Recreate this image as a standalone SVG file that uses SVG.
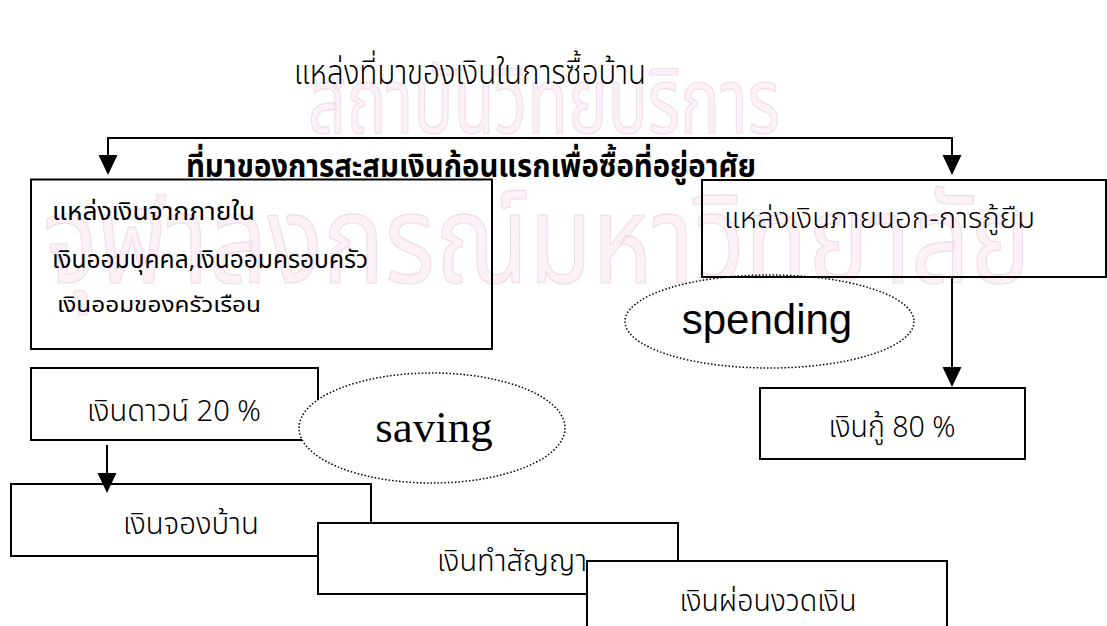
<svg xmlns="http://www.w3.org/2000/svg" width="1107" height="626" viewBox="0 0 1107 626">
<style>
.box{fill:none;stroke:#000;stroke-width:2}
.boxw{fill:#fff;stroke:#000;stroke-width:2}
.oval{fill:#fff;stroke:#000;stroke-width:1.5;stroke-dasharray:1.5 2}
.wire{fill:none;stroke:#000;stroke-width:2}
.th{font-family:"Noto Sans Thai","Noto Sans",sans-serif;fill:#000}
.lt{font-weight:300}
.wm{font-family:"Noto Sans Thai","Noto Sans",sans-serif;fill:#fbf1f7;stroke:#efdbe9;stroke-width:1.2}
</style>
<rect width="1107" height="626" fill="#fff"/>
<g id="watermark">
<text class="wm" x="544" y="133" font-size="92" text-anchor="middle" textLength="472" lengthAdjust="spacingAndGlyphs">สถาบันวิทยบริการ</text>
<text class="wm" x="537" y="283" font-size="124" text-anchor="middle" textLength="988" lengthAdjust="spacingAndGlyphs">จุฬาลงกรณ์มหาวิทยาลัย</text>
</g>
<g id="title">
<text class="th lt" x="470" y="84" font-size="34" text-anchor="middle" textLength="352" lengthAdjust="spacingAndGlyphs">แหล่งที่มาของเงินในการซื้อบ้าน</text>
</g>
<g id="subtitle">
<text class="th" x="471" y="177" font-size="32" font-weight="bold" text-anchor="middle" textLength="570" lengthAdjust="spacingAndGlyphs">ที่มาของการสะสมเงินก้อนแรกเพื่อซื้อที่อยู่อาศัย</text>
</g>
<g id="spending">
<ellipse class="oval" cx="769.5" cy="321.5" rx="144.5" ry="46.5"/>
<text x="767" y="334" font-family="Liberation Sans, Arial, sans-serif" font-size="42" text-anchor="middle">spending</text>
</g>
<g id="internal">
<rect class="box" x="31" y="179.5" width="461" height="169.5"/>
<text class="th" x="52" y="220" font-size="24" textLength="203" lengthAdjust="spacingAndGlyphs">แหล่งเงินจากภายใน</text>
<text class="th" x="52" y="268" font-size="24" textLength="316" lengthAdjust="spacingAndGlyphs">เงินออมบุคคล,เงินออมครอบครัว</text>
<text class="th" x="57" y="312" font-size="22" textLength="204" lengthAdjust="spacingAndGlyphs">เงินออมของครัวเรือน</text>
</g>
<g id="external">
<rect class="box" x="702" y="180" width="404" height="97"/>
<text class="th lt" x="724" y="228" font-size="29" textLength="311" lengthAdjust="spacingAndGlyphs">แหล่งเงินภายนอก-การกู้ยืม</text>
</g>
<g id="loan">
<rect class="box" x="760" y="388" width="265" height="71"/>
<text class="th lt" x="892" y="437" font-size="30" text-anchor="middle" textLength="127" lengthAdjust="spacingAndGlyphs">เงินกู้ 80 %</text>
</g>
<g id="down">
<rect class="boxw" x="31" y="368" width="287" height="72"/>
<text class="th lt" x="174" y="421" font-size="30" text-anchor="middle" textLength="174" lengthAdjust="spacingAndGlyphs">เงินดาวน์ 20 %</text>
</g>
<g id="saving">
<ellipse class="oval" cx="432" cy="428" rx="133" ry="55"/>
<text x="434" y="442" font-family="Liberation Serif, Times New Roman, serif" font-size="45" text-anchor="middle">saving</text>
</g>
<g id="reserve">
<rect class="boxw" x="11" y="484" width="360" height="72"/>
<text class="th lt" x="191" y="534" font-size="30" text-anchor="middle" textLength="136" lengthAdjust="spacingAndGlyphs">เงินจองบ้าน</text>
</g>
<g id="contract">
<rect class="boxw" x="318" y="523" width="360" height="71"/>
<text class="th lt" x="512" y="571" font-size="30" text-anchor="middle" textLength="150" lengthAdjust="spacingAndGlyphs">เงินทำสัญญา</text>
</g>
<g id="installment">
<rect class="boxw" x="587" y="561" width="360" height="80"/>
<text class="th lt" x="768" y="611" font-size="30" text-anchor="middle" textLength="177" lengthAdjust="spacingAndGlyphs">เงินผ่อนงวดเงิน</text>
</g>
<g id="connectors">
<path class="wire" d="M108,160 L108,138 L952,138 L952,160"/>
<path d="M98.5,155 L117.5,155 L108,175 Z"/>
<path d="M942.5,155 L961.5,155 L952,175 Z"/>
<line class="wire" x1="952" y1="277" x2="952" y2="370"/>
<path d="M942.5,367 L961.5,367 L952,387 Z"/>
<line class="wire" x1="107" y1="445" x2="107" y2="475"/>
<path d="M97.5,473 L116.5,473 L107,493 Z"/>
</g>
</svg>
